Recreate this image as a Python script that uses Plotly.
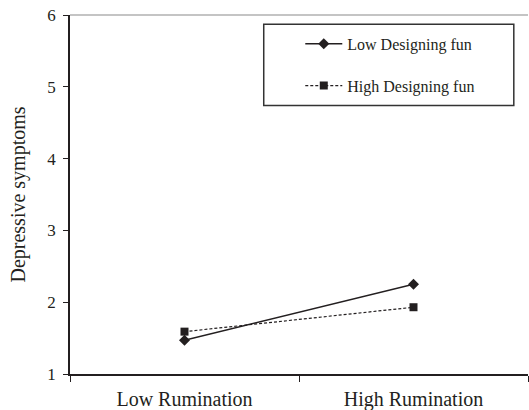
import plotly.graph_objects as go

categories = ["Low Rumination", "High Rumination"]
low_fun = [1.47, 2.25]
high_fun = [1.59, 1.93]
series_names = ["Low Designing fun", "High Designing fun"]
y_ticks = [1, 2, 3, 4, 5, 6]

INK = "#231f20"
FONT = "Liberation Serif, Times New Roman, serif"

fig = go.Figure()
fig.add_trace(go.Scatter(
    x=categories, y=low_fun, name=series_names[0], mode="lines+markers",
    line=dict(color=INK, width=1.3),
    marker=dict(symbol="diamond", size=8.5, color=INK),
    legendgroup="a",
))
fig.add_trace(go.Scatter(
    x=categories, y=high_fun, name=series_names[1], mode="lines+markers",
    line=dict(color=INK, width=1.2, dash="3px,2px"),
    marker=dict(symbol="square", size=8, color=INK),
    legendgroup="b",
))

# grey top border of the plotting area
fig.add_shape(type="line", xref="paper", yref="paper", x0=0, x1=1, y0=1, y1=1,
              line=dict(color="#b0b0b0", width=1.5), layer="above")
# frame drawn around the legend
fig.add_shape(type="rect", xref="paper", yref="paper", x0=0.423, x1=0.969, y0=0.748, y1=0.974,
              line=dict(color="#333333", width=1.5), fillcolor="rgba(0,0,0,0)", layer="above")

fig.update_layout(
    width=529, height=410,
    margin=dict(l=70, r=1, t=15, b=36, autoexpand=False),
    paper_bgcolor="white", plot_bgcolor="white",
    font=dict(family=FONT, color=INK, size=17),
    showlegend=True,
    legend=dict(
        x=0.422, y=0.967, xanchor="left", yanchor="top",
        borderwidth=0, bgcolor="rgba(0,0,0,0)",
        font=dict(family=FONT, size=16, color=INK),
        tracegroupgap=18, indentation=37, itemwidth=37,
    ),
    xaxis=dict(
        type="category", range=[-0.5, 1.5],
        showline=True, linecolor=INK, linewidth=1.5,
        ticks="outside", ticklen=6, tickcolor=INK, tickwidth=1.2,
        ticklabelstandoff=6,
        tickson="boundaries", showgrid=False, zeroline=False,
        tickfont=dict(family=FONT, size=20, color=INK),
    ),
    yaxis=dict(
        range=[1, 6], tickvals=y_ticks,
        showline=True, linecolor=INK, linewidth=1.5,
        ticks="outside", ticklen=5, tickcolor=INK, tickwidth=1.2,
        ticklabelstandoff=4,
        showgrid=False, zeroline=False,
        tickfont=dict(family=FONT, size=17, color=INK),
        title=dict(text="Depressive symptoms", font=dict(family=FONT, size=20, color=INK), standoff=16),
    ),
)

# remove the browser's default 8px body margin so the figure fills the window
fig.write_html("out.html", config={"displayModeBar": False},
               post_script="document.body.style.margin='0';")
